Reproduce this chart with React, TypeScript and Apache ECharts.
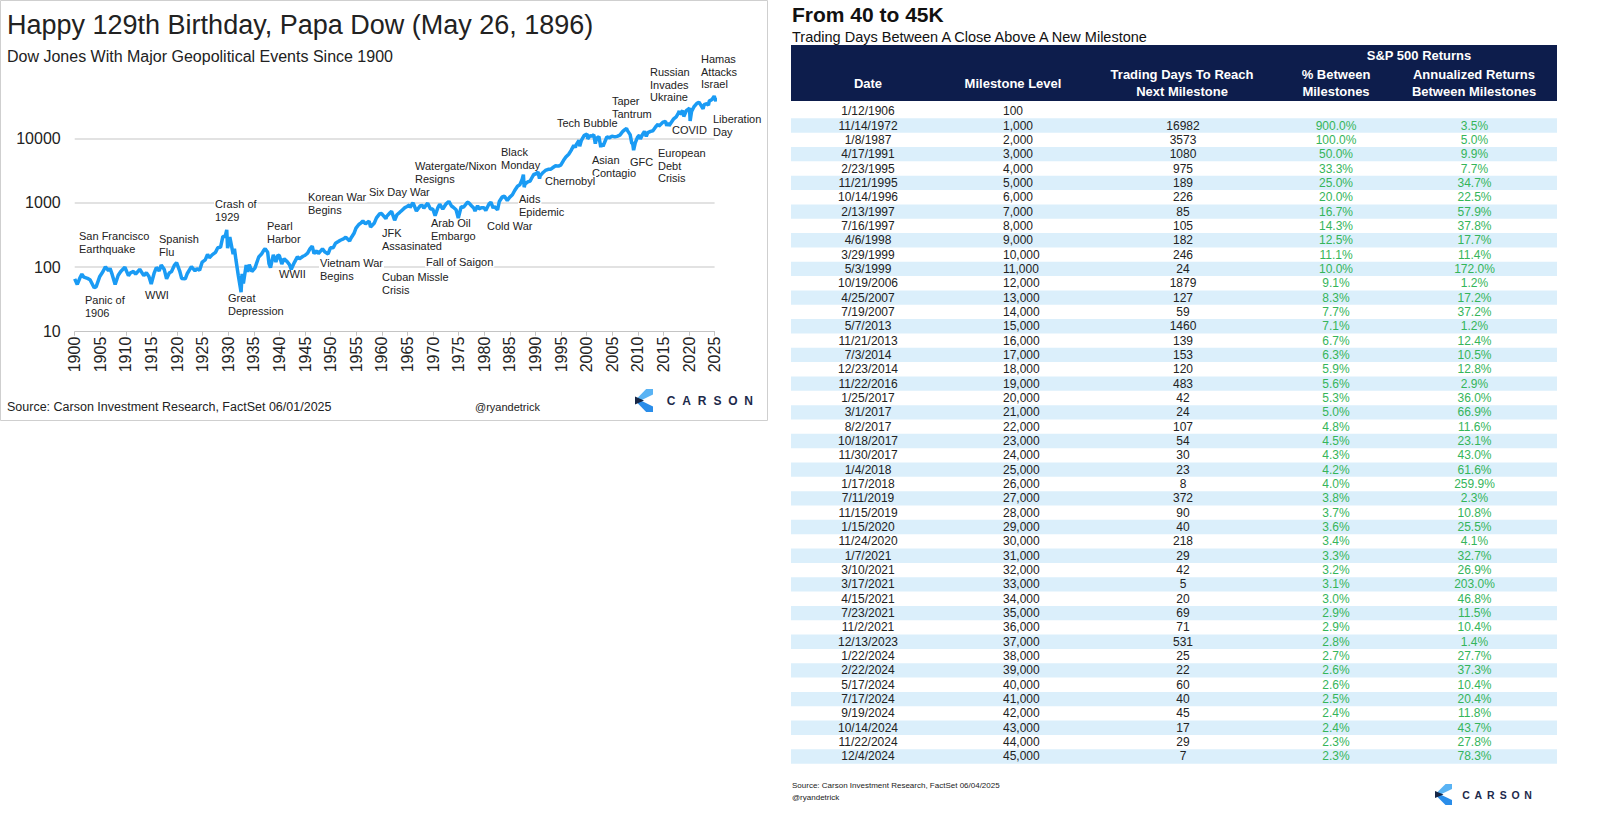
import React, { useEffect, useRef } from 'react';
import * as echarts from 'echarts';

// ---------------- Dow Jones (log scale) ----------------
const dowYears = [
  1900.0, 1900.5, 1901.0, 1901.4, 1901.8, 1902.5, 1903.0, 1903.8, 1904.2, 1904.9,
  1905.5, 1906.0, 1906.6, 1906.9, 1907.3, 1907.9, 1908.5, 1909.0, 1909.8, 1910.5,
  1910.9, 1911.5, 1911.9, 1912.7, 1913.5, 1914.0, 1914.5, 1914.95, 1915.5, 1915.95,
  1916.5, 1916.9, 1917.5, 1917.95, 1918.5, 1918.9, 1919.5, 1919.9, 1920.5, 1920.9,
  1921.6, 1922.0, 1922.8, 1923.5, 1923.9, 1924.4, 1924.9, 1925.5, 1925.95, 1926.3,
  1926.9, 1927.5, 1927.95, 1928.5, 1928.95, 1929.4, 1929.7, 1929.87, 1930.3, 1930.95,
  1931.2, 1931.5, 1931.95, 1932.5, 1932.7, 1932.95, 1933.5, 1933.8, 1934.1, 1934.6,
  1935.2, 1935.95, 1936.5, 1936.95, 1937.2, 1937.7, 1937.95, 1938.25, 1938.8, 1939.3,
  1939.7, 1940.0, 1940.45, 1940.9, 1941.5, 1941.95, 1942.3, 1942.9, 1943.5, 1943.9,
  1944.6, 1944.95, 1945.5, 1945.95, 1946.4, 1946.75, 1947.3, 1947.6, 1948.4, 1948.9,
  1949.5, 1949.95, 1950.5, 1950.95, 1951.5, 1951.9, 1952.5, 1952.95, 1953.7, 1953.95,
  1954.6, 1954.95, 1955.5, 1955.95, 1956.3, 1956.8, 1957.5, 1957.8, 1958.5, 1958.95,
  1959.6, 1959.95, 1960.8, 1960.95, 1961.6, 1961.9, 1962.5, 1962.95, 1963.5, 1963.9,
  1964.5, 1964.95, 1965.4, 1965.5, 1965.95, 1966.1, 1966.75, 1967.5, 1967.95, 1968.2,
  1968.95, 1969.5, 1969.95, 1970.4, 1970.95, 1971.3, 1971.9, 1972.5, 1972.95, 1973.1,
  1973.6, 1973.95, 1974.5, 1974.93, 1975.5, 1975.95, 1976.7, 1976.95, 1977.5, 1977.95,
  1978.2, 1978.7, 1978.95, 1979.5, 1979.95, 1980.3, 1980.95, 1981.3, 1981.75, 1981.95,
  1982.6, 1982.95, 1983.5, 1983.95, 1984.5, 1984.95, 1985.5, 1985.95, 1986.5, 1986.95,
  1987.4, 1987.65, 1987.8, 1987.95, 1988.5, 1988.95, 1989.5, 1989.75, 1989.95, 1990.5,
  1990.8, 1990.95, 1991.5, 1991.95, 1992.5, 1992.95, 1993.5, 1993.95, 1994.5, 1994.95,
  1995.5, 1995.95, 1996.5, 1996.95, 1997.5, 1997.8, 1997.95, 1998.5, 1998.65, 1998.95,
  1999.5, 1999.95, 2000.1, 2000.2, 2000.7, 2000.95, 2001.4, 2001.7, 2001.95, 2002.4,
  2002.77, 2002.95, 2003.2, 2003.95, 2004.5, 2004.95, 2005.5, 2005.95, 2006.5, 2006.95,
  2007.4, 2007.8, 2007.95, 2008.5, 2008.85, 2008.95, 2009.18, 2009.5, 2009.95, 2010.3,
  2010.5, 2010.95, 2011.3, 2011.65, 2011.95, 2012.5, 2012.95, 2013.5, 2013.95, 2014.1,
  2014.95, 2015.4, 2015.65, 2015.95, 2016.1, 2016.95, 2017.5, 2017.95, 2018.1, 2018.2,
  2018.75, 2018.98, 2019.5, 2019.95, 2020.1, 2020.22, 2020.5, 2020.95, 2021.5, 2021.95,
  2022.0, 2022.75, 2022.95, 2023.5, 2023.8, 2023.95, 2024.5, 2024.92, 2025.25, 2025.4,
];
const dowValues = [
  66, 54, 68, 78, 70, 67, 64, 48, 50, 72,
  85, 102, 88, 96, 78, 54, 75, 86, 100, 74,
  82, 86, 78, 93, 74, 82, 72, 55, 80, 99,
  88, 108, 92, 66, 82, 85, 108, 118, 88, 67,
  66, 80, 102, 88, 95, 90, 120, 130, 158, 140,
  157, 170, 200, 205, 300, 300, 381, 198, 294, 160,
  194, 130, 75, 41, 79, 56, 108, 85, 110, 86,
  97, 144, 160, 184, 194, 170, 114, 99, 155, 121,
  155, 150, 112, 135, 122, 110, 93, 118, 145, 135,
  148, 152, 165, 192, 212, 163, 180, 163, 193, 172,
  161, 200, 200, 235, 250, 262, 275, 292, 255, 281,
  340, 404, 460, 488, 521, 470, 520, 420, 480, 584,
  678, 679, 566, 616, 700, 735, 536, 652, 710, 760,
  840, 874, 930, 840, 969, 995, 744, 900, 905, 825,
  985, 800, 800, 631, 839, 950, 800, 950, 1020, 1051,
  890, 851, 780, 577, 870, 852, 1015, 1005, 900, 831,
  742, 900, 805, 840, 839, 759, 964, 1020, 824, 875,
  777, 1047, 1230, 1259, 1086, 1212, 1330, 1547, 1800, 1896,
  2300, 2722, 1739, 1939, 2100, 2169, 2600, 2791, 2753, 2999,
  2365, 2634, 2950, 3169, 3300, 3301, 3550, 3754, 3700, 3834,
  4550, 5117, 5650, 6448, 7800, 7160, 7908, 9300, 7539, 9181,
  11000, 11497, 11700, 9796, 11000, 10787, 11300, 8236, 10022, 10600,
  7286, 8342, 7524, 10454, 10200, 10783, 10500, 10718, 11200, 12463,
  13500, 14165, 13265, 11400, 8175, 8776, 6547, 8500, 10428, 11200,
  9700, 11578, 12800, 10700, 12218, 12800, 13104, 15100, 16577, 15400,
  17823, 18300, 15666, 17425, 15660, 19763, 21400, 24719, 26600, 23500,
  26800, 21800, 27000, 28538, 29500, 18592, 26000, 30606, 34500, 36338,
  36800, 28725, 33147, 34400, 32500, 37690, 40000, 45000, 37645, 42270,
];

const chartTitle = 'Happy 129th Birthday, Papa Dow (May 26, 1896)';
const chartSubtitle = 'Dow Jones With Major Geopolitical Events Since 1900';
const chartSource = 'Source: Carson Investment Research, FactSet 06/01/2025';
const handle = '@ryandetrick';

const eventLabels = [
  'Hamas\nAttacks\nIsrael', 'Russian\nInvades\nUkraine', 'Taper\nTantrum', 'Liberation\nDay',
  'Tech Bubble', 'COVID', 'Black\nMonday', 'Asian\nContagio', 'GFC', 'European\nDebt\nCrisis',
  'Watergate/Nixon\nResigns', 'Chernobyl', 'Six Day War', 'Korean War\nBegins', 'Crash of\n1929',
  'Aids\nEpidemic', 'Cold War', 'Arab Oil\nEmbargo', 'Pearl\nHarbor', 'San Francisco\nEarthquake',
  'Spanish\nFlu', 'JFK\nAssasinated', 'Fall of Saigon', 'Vietnam War\nBegins', 'WWII',
  'Cuban Missle\nCrisis', 'Panic of\n1906', 'WWI', 'Great\nDepression',
];
// layout: left x, centre y of first line
const eventPos = [
  [700, 59], [649, 72], [611, 101], [712, 119],
  [556, 123], [671, 130], [500, 152], [591, 160], [629, 162], [657, 153],
  [414, 166], [544, 181], [368, 192], [307, 197], [214, 204],
  [518, 199], [486, 226], [430, 223], [266, 226], [78, 236],
  [158, 239], [381, 233], [425, 262], [319, 263], [278, 274],
  [381, 277], [84, 300], [144, 295], [227, 298],
];

// ---------------- Table ----------------
const tableTitle = 'From 40 to 45K';
const tableSubtitle = 'Trading Days Between A Close Above A New Milestone';
const tableSource = 'Source: Carson Investment Research, FactSet 06/04/2025';
const groupHeader = 'S&P 500 Returns';
const colHeaders = ['Date', 'Milestone Level', 'Trading Days To Reach\nNext Milestone', '% Between\nMilestones', 'Annualized Returns\nBetween Milestones'];

const tableDates = [
  '1/12/1906', '11/14/1972', '1/8/1987', '4/17/1991', '2/23/1995', '11/21/1995', '10/14/1996', '2/13/1997',
  '7/16/1997', '4/6/1998', '3/29/1999', '5/3/1999', '10/19/2006', '4/25/2007', '7/19/2007', '5/7/2013',
  '11/21/2013', '7/3/2014', '12/23/2014', '11/22/2016', '1/25/2017', '3/1/2017', '8/2/2017', '10/18/2017',
  '11/30/2017', '1/4/2018', '1/17/2018', '7/11/2019', '11/15/2019', '1/15/2020', '11/24/2020', '1/7/2021',
  '3/10/2021', '3/17/2021', '4/15/2021', '7/23/2021', '11/2/2021', '12/13/2023', '1/22/2024', '2/22/2024',
  '5/17/2024', '7/17/2024', '9/19/2024', '10/14/2024', '11/22/2024', '12/4/2024',
];
const tableMilestones = [
  100, 1000, 2000, 3000, 4000, 5000, 6000, 7000, 8000, 9000, 10000, 11000, 12000, 13000, 14000, 15000,
  16000, 17000, 18000, 19000, 20000, 21000, 22000, 23000, 24000, 25000, 26000, 27000, 28000, 29000, 30000,
  31000, 32000, 33000, 34000, 35000, 36000, 37000, 38000, 39000, 40000, 41000, 42000, 43000, 44000, 45000,
];
const tableDays = [
  null, 16982, 3573, 1080, 975, 189, 226, 85, 105, 182, 246, 24, 1879, 127, 59, 1460,
  139, 153, 120, 483, 42, 24, 107, 54, 30, 23, 8, 372, 90, 40, 218,
  29, 42, 5, 20, 69, 71, 531, 25, 22, 60, 40, 45, 17, 29, 7,
];
const tablePct = [
  null, 900.0, 100.0, 50.0, 33.3, 25.0, 20.0, 16.7, 14.3, 12.5, 11.1, 10.0, 9.1, 8.3, 7.7, 7.1,
  6.7, 6.3, 5.9, 5.6, 5.3, 5.0, 4.8, 4.5, 4.3, 4.2, 4.0, 3.8, 3.7, 3.6, 3.4,
  3.3, 3.2, 3.1, 3.0, 2.9, 2.9, 2.8, 2.7, 2.6, 2.6, 2.5, 2.4, 2.4, 2.3, 2.3,
];
const tableAnn = [
  null, 3.5, 5.0, 9.9, 7.7, 34.7, 22.5, 57.9, 37.8, 17.7, 11.4, 172.0, 1.2, 17.2, 37.2, 1.2,
  12.4, 10.5, 12.8, 2.9, 36.0, 66.9, 11.6, 23.1, 43.0, 61.6, 259.9, 2.3, 10.8, 25.5, 4.1,
  32.7, 26.9, 203.0, 46.8, 11.5, 10.4, 1.4, 27.7, 37.3, 10.4, 20.4, 11.8, 43.7, 27.8, 78.3,
];

const FONT = "'Liberation Sans', Arial, Helvetica, sans-serif";
const TXT = '#222222';
const LINE_BLUE = '#1a9bf4';
const NAVY = '#0d1d4c';
const ROW_BLUE = '#dbeffb';
const GREEN = '#35b55a';

function txt(x: number, y: number, text: string, size: number, opts: any = {}) {
  const el: any = {
    type: 'text',
    x,
    y,
    z: opts.z || 0,
    silent: true,
    style: {
      text,
      fontSize: size,
      fontFamily: FONT,
      fontWeight: opts.weight || 'normal',
      fill: opts.fill || TXT,
      textAlign: opts.align || 'left',
      textVerticalAlign: opts.valign || 'middle',
      lineHeight: opts.lineHeight,
    },
  };
  if (opts.bg) {
    el.style.backgroundColor = opts.bg;
    el.style.padding = [0, 1];
  }
  return el;
}

function carsonLogo(ox: number, oy: number, w: number, h: number, textX: number, pitch: number, textY: number, size: number) {
  const els: any[] = [];
  const px = (fx: number, fy: number) => [ox + fx * w, oy + fy * h];
  els.push({ type: 'polygon', silent: true, shape: { points: [px(0.62, 0), px(1, 0), px(1, 0.24), px(0.32, 0.5), px(0, 0.5)] }, style: { fill: '#59b3f4' } });
  els.push({ type: 'polygon', silent: true, shape: { points: [px(0, 0.5), px(0.32, 0.5), px(1, 0.76), px(1, 1), px(0.62, 1)] }, style: { fill: '#2a8de9' } });
  els.push({ type: 'polygon', silent: true, shape: { points: [px(0, 0.33), px(0.5, 0.5), px(0, 0.67)] }, style: { fill: '#172747' } });
  const letters = ['C', 'A', 'R', 'S', 'O', 'N'];
  letters.forEach((l, i) => {
    els.push(txt(textX + i * pitch, textY, l, size, { weight: 'bold', fill: '#1d2a4b', align: 'center' }));
  });
  return els;
}

export default function App() {
  const ref = useRef<HTMLDivElement>(null);

  useEffect(() => {
    if (!ref.current) return;
    const chart = echarts.init(ref.current, undefined, { renderer: 'svg' });

    const lineData = dowYears.map((y, i) => [y, dowValues[i]]);

    const graphics: any[] = [];
    // left panel border
    graphics.push({ type: 'rect', silent: true, shape: { x: 0.5, y: 0.5, width: 767, height: 420 }, style: { fill: 'none', stroke: '#cfcfcf', lineWidth: 1 } });
    graphics.push(txt(7, 25, chartTitle, 27));
    graphics.push(txt(7, 56.5, chartSubtitle, 16));
    eventLabels.forEach((t, i) => {
      const [x, y] = eventPos[i];
      t.split('\n').forEach((line, j) => {
        graphics.push(txt(x, y + j * 12.5, line, 11, { bg: '#ffffff', z: 1 }));
      });
    });
    graphics.push(txt(7, 407, chartSource, 12.5));
    graphics.push(txt(475, 407, handle, 11));
    graphics.push(...carsonLogo(635, 389, 18, 23, 671, 15.5, 401, 12));

    // table
    const tL = 791;
    const tW = 766;
    graphics.push(txt(792, 14, tableTitle, 21, { weight: 'bold', fill: '#111' }));
    graphics.push(txt(792, 37, tableSubtitle, 14.5, { fill: '#111' }));
    graphics.push({ type: 'rect', silent: true, shape: { x: tL, y: 45, width: tW, height: 56 }, style: { fill: NAVY } });
    const colX = [868, 1013, 1182, 1336, 1474];
    graphics.push(txt(1419, 55.5, groupHeader, 13, { weight: 'bold', fill: '#fff', align: 'center' }));
    colHeaders.forEach((h, i) => {
      graphics.push(txt(colX[i], 83, h, 13, { weight: 'bold', fill: '#fff', align: 'center', lineHeight: 17.5 }));
    });
    const rowH = 14.34;
    const row0 = 104;
    tableDates.forEach((d, i) => {
      const top = row0 + i * rowH;
      const cy = top + rowH / 2;
      if (i % 2 === 1) {
        graphics.push({ type: 'rect', silent: true, shape: { x: tL, y: top, width: tW, height: rowH }, style: { fill: ROW_BLUE } });
      }
      graphics.push(txt(colX[0], cy, d, 12, { align: 'center' }));
      graphics.push(txt(1003, cy, tableMilestones[i].toLocaleString('en-US'), 12));
      const days = tableDays[i];
      if (days !== null) graphics.push(txt(1183, cy, String(days), 12, { align: 'center' }));
      const p = tablePct[i];
      if (p !== null) graphics.push(txt(1336, cy, p.toFixed(1) + '%', 12, { align: 'center', fill: GREEN }));
      const a = tableAnn[i];
      if (a !== null) graphics.push(txt(1474.5, cy, a.toFixed(1) + '%', 12, { align: 'center', fill: GREEN }));
    });
    graphics.push(txt(792, 785, tableSource, 8));
    graphics.push(txt(792, 797.5, handle, 8));
    graphics.push(...carsonLogo(1435, 784, 17, 21, 1466, 12.4, 794.5, 10.5));

    chart.setOption({
      animation: false,
      backgroundColor: '#ffffff',
      grid: { left: 74.7, right: 900.4, top: 73.8, bottom: 497.3, containLabel: false },
      xAxis: {
        type: 'value',
        min: 1900,
        max: 2025,
        interval: 5,
        axisLine: { show: true, onZero: false, lineStyle: { color: '#c4c4c4', width: 1 } },
        axisTick: { show: true, length: 4, lineStyle: { color: '#c4c4c4' } },
        splitLine: { show: false },
        axisLabel: {
          rotate: 90,
          margin: 5,
          fontSize: 16,
          fontFamily: FONT,
          color: TXT,
          formatter: (v: number) => String(Math.round(v)),
        },
      },
      yAxis: {
        type: 'log',
        logBase: 10,
        min: 10,
        max: 100000,
        axisLine: { show: false },
        axisTick: { show: false },
        splitLine: { show: true, showMinLine: false, showMaxLine: false, lineStyle: { color: '#d9d9d9', width: 1.5 } },
        axisLabel: {
          margin: 14,
          fontSize: 16,
          fontFamily: FONT,
          color: TXT,
          formatter: (v: number) => {
            const r = Math.round(v);
            return r >= 100000 ? '' : String(r);
          },
        },
      },
      series: [
        {
          type: 'line',
          data: lineData,
          showSymbol: false,
          symbol: 'none',
          lineStyle: { color: LINE_BLUE, width: 3.5 },
          itemStyle: { color: LINE_BLUE },
          z: 3,
        },
      ],
      graphic: { elements: graphics },
    });

    return () => {
      chart.dispose();
    };
  }, []);

  return (
    <div
      ref={ref}
      style={{ position: 'absolute', left: 0, top: 0, width: 1615, height: 829, background: '#fff' }}
    />
  );
}
